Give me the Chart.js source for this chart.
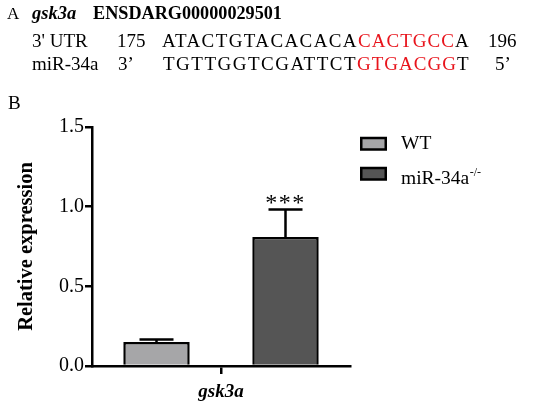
<!DOCTYPE html>
<html>
<head>
<meta charset="utf-8">
<script src="https://cdn.jsdelivr.net/npm/chart.js@4/dist/chart.umd.min.js"></script>
<style>
html,body{margin:0;padding:0;background:#fff;}
#wrap{position:relative;width:550px;height:409px;overflow:hidden;font-family:"Liberation Serif","Times New Roman",serif;color:#000;}
#c{position:absolute;left:0;top:0;}
.t{position:absolute;white-space:pre;line-height:1;}
.red{color:#e8141c;}
</style>
</head>
<body>
<div id="wrap">
<canvas id="c" width="550" height="409"></canvas>
</div>
<script>
// ---------- data ----------
const categories = ['gsk3a'];
const seriesLabels = ['WT', 'miR-34a'];
const seriesSup = ['', '-/-'];
const wtMeans = [0.15];
const wtSem = [0.016];
const koMeans = [0.81];
const koSem = [0.172];
const yTickValues = [0, 0.5, 1.0, 1.5];
const sigMarks = ['', '***'];

// panel A text (sequence alignment)
const headerParts = [
  {text:'A', left:7, base:19, size:17, weight:'normal', style:'normal'},
  {text:'gsk3a', left:32, base:19, size:18.5, weight:'bold', style:'italic'},
  {text:'ENSDARG00000029501', left:93, base:19, size:18.2, weight:'bold', style:'normal'}
];
const seqRows = [
  [{text:"3' UTR", left:32, base:47.3},
   {text:'175', left:117, base:47.3},
   {text:'ATACTGTACACACA', left:162, base:47.3, fit:196},
   {text:'CACTGCC', left:358, base:47.3, fit:97, red:true},
   {text:'A', left:455, base:47.3},
   {text:'196', left:488, base:47.3}],
  [{text:'miR-34a', left:32, base:70},
   {text:'3\u2019', left:118, base:70},
   {text:'TGTTGGTCGATTCT', left:163, base:70, fit:194},
   {text:'GTGACGG', left:357, base:70, fit:100, red:true},
   {text:'T', left:457, base:70},
   {text:'5\u2019', left:495, base:70}]
];

const serif = '"Liberation Serif","Times New Roman",serif';
const wrap = document.getElementById('wrap');
function addText(p, size, weight, style){
  const s = document.createElement('div');
  s.className = 't' + (p.red ? ' red' : '');
  s.textContent = p.text;
  s.style.left = p.left + 'px';
  s.style.top = (p.base - 0.8375*size) + 'px';
  s.style.fontSize = size + 'px';
  s.style.fontWeight = weight;
  s.style.fontStyle = style;
  wrap.appendChild(s);
  if (p.fit) {
    const w = s.getBoundingClientRect().width;
    s.style.letterSpacing = ((p.fit - w) / p.text.length) + 'px';
  }
}
headerParts.forEach(p => addText(p, p.size, p.weight, p.style));
seqRows.forEach(r => r.forEach(p => addText(p, 19, 'normal', 'normal')));
addText({text:'B', left:8, base:109.3}, 19, 'normal', 'normal');

// ---------- plugins ----------
const errorBarPlugin = {
  id:'errorBars',
  afterDatasetsDraw(chart){
    const {ctx} = chart;
    const y = chart.scales.y;
    chart.data.datasets.forEach((ds, i) => {
      const meta = chart.getDatasetMeta(i);
      meta.data.forEach((bar, j) => {
        const top = y.getPixelForValue(ds.data[j] + ds.errors[j]);
        ctx.save();
        ctx.strokeStyle = '#000';
        ctx.lineWidth = 2.5;
        ctx.beginPath();
        ctx.moveTo(bar.x, bar.y);
        ctx.lineTo(bar.x, top);
        ctx.moveTo(bar.x - 17, top);
        ctx.lineTo(bar.x + 17, top);
        ctx.stroke();
        if (sigMarks[i]) {
          ctx.fillStyle = '#000';
          ctx.font = '24px ' + serif;
          ctx.textAlign = 'center';
          ctx.textBaseline = 'alphabetic';
          ctx.letterSpacing = '1.5px';
          ctx.fillText(sigMarks[i], bar.x, top + 0.5);
        }
        ctx.restore();
      });
    });
  }
};

const legendPlugin = {
  id:'sideLegend',
  afterDraw(chart){
    const {ctx, chartArea:a} = chart;
    const boxTops = [11, 41];
    const textBases = [22.3, 57.3];
    chart.data.datasets.forEach((ds, i) => {
      ctx.save();
      ctx.fillStyle = ds.backgroundColor;
      ctx.strokeStyle = '#000';
      ctx.lineWidth = 2.5;
      const bx = a.right + 11.25, by = a.top + boxTops[i];
      ctx.fillRect(bx, by, 24.5, 11.5);
      ctx.strokeRect(bx, by, 24.5, 11.5);
      ctx.fillStyle = '#000';
      ctx.font = '19.5px ' + serif;
      ctx.textAlign = 'left';
      ctx.textBaseline = 'alphabetic';
      const tx = a.right + 51, ty = a.top + textBases[i];
      ctx.fillText(ds.label, tx, ty);
      if (seriesSup[i]) {
        const w = ctx.measureText(ds.label).width;
        ctx.font = '12px ' + serif;
        ctx.fillText(seriesSup[i], tx + w + 0.5, ty - 8.5);
      }
      ctx.restore();
    });
  }
};

// ---------- chart ----------
new Chart(document.getElementById('c'), {
  type:'bar',
  data:{
    labels:categories,
    datasets:[
      {label:seriesLabels[0], data:wtMeans, errors:wtSem, backgroundColor:'#a6a6a8', borderColor:'#000', borderWidth:2.5},
      {label:seriesLabels[1], data:koMeans, errors:koSem, backgroundColor:'#555555', borderColor:'#000', borderWidth:2.5}
    ]
  },
  options:{
    responsive:false,
    devicePixelRatio:1,
    animation:false,
    categoryPercentage:1.0,
    barPercentage:0.515,
    layout:{padding:{left:0, right:200, top:127, bottom:0}},
    plugins:{legend:{display:false}, tooltip:{enabled:false}},
    scales:{
      x:{
        grid:{display:true, offset:false, drawOnChartArea:false, drawTicks:true, tickLength:8, color:'#000', lineWidth:2.5},
        border:{display:true, color:'#000', width:2.5},
        ticks:{color:'#000', font:{family:serif, size:19, weight:'bold', style:'italic'}, padding:7},
        afterFit(s){ s.height = 43; }
      },
      y:{
        min:0, max:1.5,
        afterBuildTicks(s){ s.ticks = yTickValues.map(v => ({value:v})); },
        ticks:{callback:v => Number(v).toFixed(1), color:'#000', font:{family:serif, size:20}, padding:1},
        grid:{drawOnChartArea:false, drawTicks:true, tickLength:7, color:'#000', lineWidth:2.5},
        border:{display:true, color:'#000', width:2.5},
        title:{display:true, text:'Relative expression', color:'#000', font:{family:serif, size:20.5, weight:'bold'}, padding:{top:14, bottom:0}},
        afterFit(s){ s.width = 92; }
      }
    }
  },
  plugins:[errorBarPlugin, legendPlugin]
});
</script>
</body>
</html>
